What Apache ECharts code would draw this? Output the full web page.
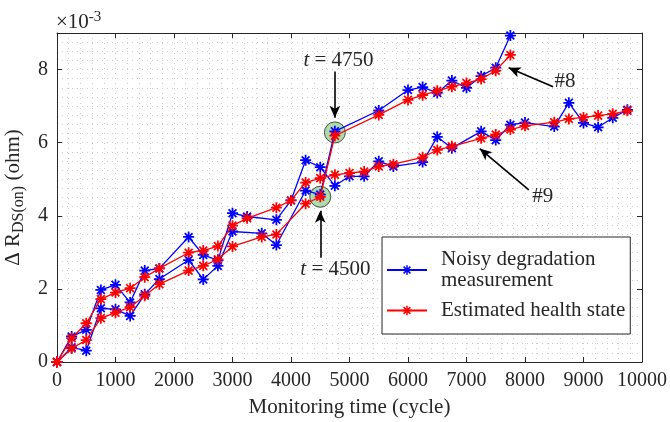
<!DOCTYPE html>
<html><head><meta charset="utf-8">
<script src="https://cdn.jsdelivr.net/npm/echarts@6/dist/echarts.min.js"></script>
<style>html,body{margin:0;padding:0;background:#fff}#c{width:670px;height:422px}</style>
</head><body><div id="c"></div>
<script>
// values in units of 1e-3 ohm
const t8 = [0,250,500,750,1000,1250,1500,1750,2250,2500,2750,3000,3500,3750,4250,4500,4750,5500,6000,6250,6500,6750,7000,7250,7500,7750];
const noisy8 = [0,0.4,0.31,1.47,1.44,1.26,1.85,2.27,2.79,2.26,2.63,3.57,3.52,3.2,4.69,4.58,6.31,6.88,7.44,7.52,7.36,7.7,7.5,7.82,8.05,8.93];
const est8 = [0,0.37,0.6,1.2,1.35,1.5,1.81,2.13,2.5,2.63,2.81,3.16,3.42,3.49,4.33,4.52,6.19,6.76,7.17,7.3,7.42,7.53,7.63,7.74,7.97,8.4];
const t9 = [0,250,500,750,1000,1250,1500,1750,2250,2500,2750,3000,3250,3750,4000,4250,4500,4750,5000,5250,5500,5750,6250,6500,6750,7250,7500,7750,8000,8500,8750,9000,9250,9500,9750];
const noisy9 = [0,0.7,0.88,1.97,2.11,1.63,2.5,2.56,3.42,2.93,2.78,4.07,3.98,3.89,4.42,5.52,5.33,4.82,5.08,5.08,5.49,5.35,5.47,6.16,5.85,6.31,6.07,6.49,6.55,6.44,7.09,6.54,6.42,6.68,6.9];
const est9 = [0,0.65,1.06,1.72,1.9,2.02,2.32,2.56,2.99,3.05,3.17,3.73,3.93,4.22,4.42,4.91,5.03,5.12,5.17,5.21,5.35,5.41,5.6,5.8,5.9,6.12,6.22,6.36,6.46,6.56,6.65,6.69,6.74,6.79,6.87];
const highlightT = [4500,4750];
const highlightV = [4.52,6.28];
const arrows = [
  {from:[4750,7.95], to:[4750,6.68]},
  {from:[4500,2.85], to:[4500,4.14]},
  {from:[8480,7.53], to:[7720,8.05]},
  {from:[8065,4.71], to:[7226,5.84]}
];
const notes = [
  {at:[4812,8.25], text:'{i|t} = 4750'},
  {at:[4760,2.52], text:'{i|t} = 4500'},
  {at:[8682,7.67], text:'#8'},
  {at:[8305,4.52], text:'#9'}
];
const NAME_NOISY = 'Noisy degradation measurement';
const NAME_EST = 'Estimated health state';

const FONT = 'Liberation Serif';
const INK = '#262626';
const FS = 21;
const STAR = 'path://M0 8.4H20V11.6H0Z M8.4 0H11.6V20H8.4Z M4.03 1.77L18.23 15.97L15.97 18.23L1.77 4.03Z M15.97 1.77L18.23 4.03L4.03 18.23L1.77 15.97Z';
const pair = (ts, vs) => ts.map((t, i) => [t, vs[i]]);
const grid = {type:[1,4], color:'#cdcdcd', width:1};

function lineSeries(name, color, ts, vs) {
  return {
    type:'line', name, data: pair(ts, vs), symbol: STAR, symbolSize: 11,
    showAllSymbol:true, clip:true,
    lineStyle:{color, width:1.3}, itemStyle:{color}, emphasis:{disabled:true},
    z: color === '#ff0000' ? 4 : 3, animation:false
  };
}

const chart = echarts.init(document.getElementById('c'));
chart.setOption({
  animation:false,
  grid:{left:57, right:28, top:33, bottom:60, containLabel:false, outerBoundsMode:'none'},
  textStyle:{fontFamily:FONT},
  xAxis:[
    {type:'value', min:0, max:10000, interval:1000, position:'bottom',
     name:'Monitoring time (cycle)', nameLocation:'middle', nameGap:35,
     nameTextStyle:{fontFamily:FONT, fontSize:FS, color:INK},
     axisLine:{show:true, onZero:false, lineStyle:{color:INK, width:1}},
     axisTick:{show:true, inside:true, length:5, lineStyle:{color:INK}},
     axisLabel:{fontFamily:FONT, fontSize:20, color:INK, margin:9, formatter: v => String(v)},
     splitLine:{show:true, lineStyle:grid},
     minorTick:{show:false, splitNumber:5},
     minorSplitLine:{show:true, lineStyle:grid}},
    {type:'value', min:0, max:10000, interval:1000, position:'top',
     axisLine:{show:true, onZero:false, lineStyle:{color:INK, width:1}},
     axisTick:{show:true, inside:true, length:5, lineStyle:{color:INK}},
     axisLabel:{show:false}, splitLine:{show:false}}
  ],
  yAxis:[
    {type:'value', min:0, max:9, interval:1, position:'left',
     axisLine:{show:false}, axisTick:{show:false}, axisLabel:{show:false},
     splitLine:{show:true, lineStyle:grid},
     minorTick:{show:false, splitNumber:4},
     minorSplitLine:{show:true, lineStyle:grid}},
    {type:'value', min:0, max:9, interval:2, position:'left',
     name:'{a|Δ R}{s|DS(on)}{a| (ohm)}', nameLocation:'middle', nameGap:18,
     nameTextStyle:{rich:{
       a:{fontFamily:FONT, fontSize:FS, color:INK},
       s:{fontFamily:FONT, fontSize:16, color:INK, padding:[11,0,0,0]}}},
     axisLine:{show:true, onZero:false, lineStyle:{color:INK, width:1}},
     axisTick:{show:true, inside:true, length:5, lineStyle:{color:INK}},
     axisLabel:{fontFamily:FONT, fontSize:20, color:INK, margin:9,
       formatter: v => (v % 2 === 0 ? String(v) : '')},
     splitLine:{show:false}},
    {type:'value', min:0, max:9, interval:2, position:'right',
     axisLine:{show:true, onZero:false, lineStyle:{color:INK, width:1}},
     axisTick:{show:true, inside:true, length:5, lineStyle:{color:INK}},
     axisLabel:{show:false}, splitLine:{show:false}}
  ],
  legend:{
    data:[NAME_NOISY, NAME_EST], orient:'vertical', left:382, top:237,
    backgroundColor:'#fff', borderColor:INK, borderWidth:1, borderRadius:0,
    padding:[12,5,13,4], itemGap:9, itemWidth:40, itemHeight:12,
    selectedMode:false,
    formatter: n => n === NAME_NOISY ? 'Noisy degradation\nmeasurement' : n,
    textStyle:{fontFamily:FONT, fontSize:FS, color:INK, lineHeight:21, padding:[0,0,0,9]}
  },
  graphic:[
    {type:'text', left:56, top:10, style:{
      text:'{a|×10}{b|-3}', rich:{
        a:{fontFamily:FONT, fontSize:FS, fill:INK},
        b:{fontFamily:FONT, fontSize:15, fill:INK, padding:[0,0,9,0]}}}}
  ],
  series:[
    {type:'scatter', name:'highlight', data: pair(highlightT, highlightV),
     symbol:'circle', symbolSize:21, z:2, silent:true,
     itemStyle:{color:'#98d498', borderColor:'#222', borderWidth:1},
     markLine:{silent:true, symbol:['none','arrow'], symbolSize:[8,12], animation:false,
       lineStyle:{color:'#000', width:1.6, type:'solid'}, label:{show:false},
       data: arrows.map(a => [{coord:a.from}, {coord:a.to}])},
     markPoint:{silent:true, symbol:'circle', symbolSize:0, animation:false,
       label:{show:true, position:'inside', color:INK, fontFamily:FONT, fontSize:FS,
         formatter: p => p.name,
         rich:{i:{fontFamily:FONT, fontStyle:'italic', fontSize:FS, color:INK}}},
       data: notes.map(n => ({coord:n.at, name:n.text}))}},
    lineSeries(NAME_NOISY, '#0000ff', t8, noisy8),
    lineSeries(NAME_EST, '#ff0000', t8, est8),
    lineSeries(NAME_NOISY, '#0000ff', t9, noisy9),
    lineSeries(NAME_EST, '#ff0000', t9, est9)
  ]
});
</script></body></html>
